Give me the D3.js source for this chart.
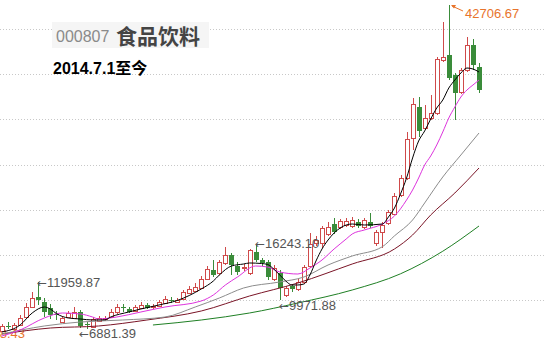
<!DOCTYPE html>
<html>
<head>
<meta charset="utf-8">
<script src="https://cdn.jsdelivr.net/npm/d3@7"></script>
<style>
html, body { margin: 0; padding: 0; background: #fff; overflow: hidden; }
svg { display: block; }
</style>
</head>
<body>
<svg width="545" height="358"></svg>
<script>
// monthly candles, 2014.7 onwards
const OPEN = [6620,7150,6790,7230,8120,9220,10330,9780,9110,8450,7560,8120,8000,8670,7340,7010,7670,7900,8120,8670,
  9220,9000,8780,9110,9450,9220,9340,9670,10000,9780,10110,10780,11000,11330,12330,13320,12990,14100,14980,13760,
  13540,12990,15310,14430,14210,12330,12990,10550,11550,11220,11990,13760,16310,16310,17310,18410,18080,18300,18190,18640,
  18080,18640,16310,17530,18520,19520,21620,23500,27930,31370,29040,30150,30700,36570,37120,34910,33030,35460,38230,35790]
const HIGH = [7340,7560,7450,8340,9670,10890,11959.87,10220,9560,8780,8230,8780,9220,8890,7560,8120,8230,8230,9000,9560,
  9560,9220,9450,9780,9670,9560,10000,10440,10330,10220,11110,11550,11880,12660,13760,14430,14430,15870,15200,14210,
  13990,15650,16243.10,14650,14430,13880,13320,11550,11770,12320,13880,17420,17090,18190,18640,19080,18970,19080,19190,18970,
  19080,19630,17750,18640,19960,21850,23840,28600,32360,32470,31590,32690,36900,40775,42706.67,35130,35680,39110,38890,36240]
const LOW = [6548.43,6790,6680,7120,8000,9100,9450,8120,7900,7790,7450,8000,7900,6881.39,6790,6900,7560,7670,8000,8450,
  8670,8560,8670,9000,9000,9000,9220,9560,9670,9670,10000,10660,10890,11220,12210,12550,12770,13870,12770,12770,
  13210,12770,14210,13760,12210,12100,9971.88,10330,10890,11000,11770,13540,15980,15760,17090,17310,17860,18080,17970,17970,
  17860,17970,15980,15760,18300,19410,21400,23280,26600,28040,28820,29930,30480,36350,34350,29930,32800,35240,35460,32920]
const CLOSE = [7120,7060,7230,8000,9220,10220,10000,8670,8340,8340,8000,8560,8670,7120,7230,7900,8000,8000,8670,9220,
  9110,8670,9220,9450,9110,9340,9780,10110,9890,10000,10890,11220,11440,12330,13430,12770,14210,14980,13870,13100,
  13650,15540,14430,14100,12550,13540,11330,11330,11220,11990,13650,16200,16640,17970,18080,17530,18750,18750,18860,18190,
  18860,18190,17530,18300,19740,21510,23500,27820,31700,28710,30150,30700,36680,36900,34580,32920,35460,38230,36020,33250]

// moving averages as [candle index, value]
const MA5 = [[0,6458],[3,7233],[5,8561],[7,9225],[8,9004],[9,8500],[11,8007],[13,7897],[15,7786],[17,7800],[18,8118],
  [21,8672],[23,9004],[26,9447],[29,9940],[33,11218],[35,12103],[36,12768],[38,13764],[40,13985],[41,14096],[43,14040],
  [44,13930],[45,13432],[46,12768],[47,12103],[48,11661],[49,11661],[50,11772],[51,12768],[52,14317],[53,15646],[54,16642],
  [56,17970],[58,18413],[60,18303],[63,18413],[64,19188],[65,20184],[66,21735],[67,23505],[68,25720],[69,27600],[70,28709],
  [71,30036],[72,31254],[73,32140],[74,33468],[75,34354],[76,35129],[77,35682],[78,35572],[79,35240]]
const MA10 = [[0,6015],[3,6679],[7,8007],[10,8561],[13,8450],[15,8118],[16,7900],[19,8118],[23,8672],[27,9225],[33,9889],
  [35,10554],[37,11661],[39,12546],[42,13764],[44,13653],[46,13100],[49,12878],[51,13542],[53,14428],[55,15646],[57,16750],
  [58,17306],[60,17749],[63,18413],[65,19300],[67,21070],[68,22177],[69,23505],[70,24944],[71,25940],[72,27160],[73,28600],
  [74,30150],[75,31365],[76,32472],[77,33247],[78,33800],[79,34354]]
const MA20 = [[0,6236],[7,7122],[13,7565],[20,7786],[27,8118],[32,9225],[36,10221],[40,11328],[46,11993],[50,12546],
  [54,13875],[58,14871],[63,15900],[65,17100],[68,18856],[70,20740],[73,23616],[76,26052],[79,28487]]
const MA30 = [[0,6236],[8,6900],[16,7122],[24,7786],[33,8782],[41,10443],[49,11882],[58,13985],[65,15646],[68,17196],
  [71,19410],[75,21845],[79,24612]]
const MA60 = [[25,7233],[33,7786],[41,8561],[49,9668],[58,11107],[66,12900],[73,15400],[79,18192]]

const GRID = [10000,15000,20000,25000,30000,35000,40000]

const svg = d3.select("svg")
const x = d3.scaleLinear().domain([0, 79]).range([2, 479])
const y = d3.scaleLinear().domain([10000, 40000]).range([300, 29])
const UP = "#cf4a4a", DOWN = "#3a8c3a"
const NUM_FONT = "13px 'Liberation Sans', Arial, sans-serif"

svg.append("g").selectAll("line")
  .data(GRID)
  .join("line")
  .attr("x1", 0).attr("x2", 545)
  .attr("y1", d => Math.round(y(d)) + 0.5)
  .attr("y2", d => Math.round(y(d)) + 0.5)
  .attr("stroke", "#c8c8c8")
  .attr("stroke-dasharray", "1,2")

const candles = OPEN.map((o, i) => ({i, o, h: HIGH[i], l: LOW[i], c: CLOSE[i]}))

// min label sits behind the first candles, partly past the left edge as in the source
svg.append("text")
  .attr("x", 25).attr("y", Math.round(y(LOW[0])) + 2)
  .attr("dy", "0.35em")
  .attr("text-anchor", "end")
  .attr("fill", "#e8742c")
  .style("font", NUM_FONT)
  .text(d3.format(".2f")(LOW[0]))

const cg = svg.append("g")
candles.forEach(d => {
  const cx = Math.round(x(d.i)) + 0.5
  const yo = Math.round(y(d.o)), yc = Math.round(y(d.c))
  const yh = Math.round(y(d.h)), yl = Math.round(y(d.l))
  if (d.c >= d.o) {
    const top = yc, bot = Math.max(yo, yc + 1)
    cg.append("line").attr("x1", cx).attr("x2", cx).attr("y1", yh).attr("y2", top).attr("stroke", UP)
    cg.append("line").attr("x1", cx).attr("x2", cx).attr("y1", bot).attr("y2", yl).attr("stroke", UP)
    cg.append("rect")
      .attr("x", cx - 2).attr("y", top + 0.5)
      .attr("width", 4).attr("height", bot - top)
      .attr("fill", "#fff").attr("stroke", UP)
  } else {
    cg.append("line").attr("x1", cx).attr("x2", cx).attr("y1", yh).attr("y2", yl).attr("stroke", DOWN)
    cg.append("rect")
      .attr("x", cx - 2.5).attr("y", yo)
      .attr("width", 5).attr("height", Math.max(1, yc - yo))
      .attr("fill", DOWN)
  }
})

const line = d3.line()
  .x(d => x(d[0]))
  .y(d => y(d[1]))
  .curve(d3.curveMonotoneX)

const series = [
  [MA60, "#1f7f24"],
  [MA30, "#7a1426"],
  [MA20, "#8c8c8c"],
  [MA10, "#dd33dd"],
  [MA5, "#000"]
]
svg.append("g").selectAll("path")
  .data(series)
  .join("path")
  .attr("d", d => line(d[0]))
  .attr("fill", "none")
  .attr("stroke", d => d[1])
  .attr("stroke-width", 1)

// high / low markers
const marks = [
  {i: 6, v: HIGH[6], dy: 0},
  {i: 42, v: HIGH[42], dy: 0},
  {i: 13, v: LOW[13], dy: 5},
  {i: 46, v: LOW[46], dy: 5}
]
const mt = svg.append("g").selectAll("text")
  .data(marks)
  .join("text")
  .attr("x", d => Math.round(x(d.i)) - 1)
  .attr("y", d => y(d.v) + d.dy)
  .attr("dy", "0.35em")
  .attr("fill", "#555")
  .style("font", NUM_FONT)
mt.append("tspan")
  .style("font-family", "'DejaVu Sans', sans-serif")
  .style("font-size", "12px")
  .text("\u2190")
mt.append("tspan")
  .text(d => d3.format(".2f")(d.v))

// global high
const px = Math.round(x(74)) + 2, py = Math.round(y(HIGH[74]))
svg.append("path")
  .attr("d", `M${px + 12},${py + 6} L${px + 1},${py + 1}`)
  .attr("stroke", "#e8742c").attr("fill", "none")
svg.append("path")
  .attr("d", `M${px},${py} l5,0 l-2,3.5 z`)
  .attr("fill", "#e8742c")
svg.append("text")
  .attr("x", px + 14).attr("y", py + 8)
  .attr("dy", "0.35em")
  .attr("fill", "#e8742c")
  .style("font", NUM_FONT)
  .text(d3.format(".2f")(HIGH[74]))

// title block
svg.append("rect")
  .attr("x", 52).attr("y", 22).attr("width", 157).attr("height", 26)
  .attr("fill", "#f5f5f5")
svg.append("text")
  .attr("x", 56).attr("y", 42)
  .attr("fill", "#8a8a8a")
  .style("font", "16px 'Liberation Sans', Arial, sans-serif")
  .text("000807")
svg.append("text")
  .attr("x", 116).attr("y", 44)
  .attr("fill", "#444")
  .style("font", "bold 21px 'Noto Sans CJK SC', sans-serif")
  .text("食品饮料")
svg.append("text")
  .attr("x", 53).attr("y", 74)
  .attr("fill", "#000")
  .style("font", "bold 16px 'Liberation Sans', 'Noto Sans CJK SC', sans-serif")
  .text("2014.7.1至今")
</script>
</body>
</html>
